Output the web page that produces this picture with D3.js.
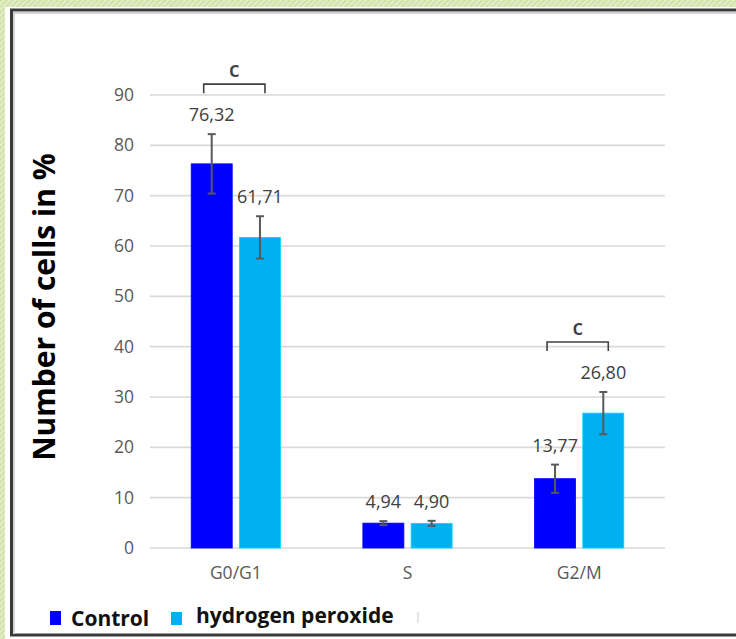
<!DOCTYPE html>
<html>
<head>
<meta charset="utf-8">
<script src="https://cdn.jsdelivr.net/npm/d3@7"></script>
<style>
  html, body { margin: 0; padding: 0; background: #ffffff; }
  svg { display: block; }
  text { font-family: "Open Sans", "Noto Sans", sans-serif; }
</style>
</head>
<body>
<div id="chart"></div>
<script>
// Cell-cycle phase distribution, control vs hydrogen peroxide
const categories = ["G0/G1", "S", "G2/M"];
const seriesNames = ["Control", "hydrogen peroxide"];
const controlValues = [76.32, 4.94, 13.77];
const peroxideValues = [61.71, 4.90, 26.80];
const controlErrors = [5.9, 0.4, 2.8];
const peroxideErrors = [4.2, 0.5, 4.2];
const yTickValues = [0, 10, 20, 30, 40, 50, 60, 70, 80, 90];
const significantCategories = ["G0/G1", "G2/M"];
const significanceLabel = "c";
const yAxisTitle = "Number of cells in %";
const seriesColors = ["#0000ff", "#00b0f0"];

const W = 736, H = 639;
const svg = d3.select("#chart").append("svg")
  .attr("width", W).attr("height", H);

// striped green page margin
const defs = svg.append("defs");
const pat = defs.append("pattern")
  .attr("id", "stripes").attr("patternUnits", "userSpaceOnUse")
  .attr("width", 4).attr("height", 4)
  .attr("patternTransform", "rotate(45)");
pat.append("rect").attr("width", 4).attr("height", 4).attr("fill", "#e2edc8");
pat.append("rect").attr("width", 2).attr("height", 4).attr("fill", "#d2e3aa");

svg.append("rect").attr("x", 0).attr("y", 0).attr("width", W).attr("height", 7)
  .attr("fill", "url(#stripes)");
svg.append("rect").attr("x", 0).attr("y", 0).attr("width", 5).attr("height", H)
  .attr("fill", "url(#stripes)");

// chart frame
svg.append("rect").attr("x", 11.5).attr("y", 10).attr("width", W + 20).attr("height", 625)
  .attr("fill", "#ffffff").attr("stroke", "#3a3a3a").attr("stroke-width", 3);
svg.append("path")
  .attr("d", `M14,${634} L14,13 L${W},13`)
  .attr("fill", "none").attr("stroke", "#d4d4d4").attr("stroke-width", 2);

// scales
const x0 = d3.scaleBand().domain(categories).range([150, 665])
  .paddingInner(0.48).paddingOuter(0.24);
const x1 = d3.scaleBand().domain(seriesNames).range([0, x0.bandwidth()])
  .paddingInner(0.15);
const y = d3.scaleLinear().domain([0, 90]).range([548, 95]);

// gridlines
svg.append("g").selectAll("line").data(yTickValues).join("line")
  .attr("x1", 150).attr("x2", 665)
  .attr("y1", d => y(d)).attr("y2", d => y(d))
  .attr("stroke", "#d9d9d9").attr("stroke-width", 1.6);

// y axis labels
const yAxis = d3.axisLeft(y).tickValues(yTickValues).tickSize(0).tickPadding(0)
  .tickFormat(d3.format("d"));
const yg = svg.append("g").attr("transform", "translate(134,0)").call(yAxis);
yg.select(".domain").remove();
yg.selectAll("text").attr("font-size", 17.5).attr("fill", "#595959")
  .attr("font-family", "'Open Sans', sans-serif");

// x axis labels
const xAxis = d3.axisBottom(x0).tickSize(0).tickPadding(0);
const xg = svg.append("g").attr("transform", "translate(0,567)").call(xAxis);
xg.select(".domain").remove();
xg.selectAll("text").attr("font-size", 17.5).attr("fill", "#595959")
  .attr("font-family", "'Open Sans', sans-serif");

// rows of bar data
const rows = [];
categories.forEach((c, i) => {
  rows.push({ cat: c, series: seriesNames[0], value: controlValues[i], err: controlErrors[i], color: seriesColors[0] });
  rows.push({ cat: c, series: seriesNames[1], value: peroxideValues[i], err: peroxideErrors[i], color: seriesColors[1] });
});
const cx = d => x0(d.cat) + x1(d.series) + x1.bandwidth() / 2;

// bars
svg.append("g").selectAll("rect").data(rows).join("rect")
  .attr("x", d => x0(d.cat) + x1(d.series))
  .attr("y", d => y(d.value))
  .attr("width", x1.bandwidth())
  .attr("height", d => y(0) - y(d.value))
  .attr("fill", d => d.color)
  .attr("stroke", d => d3.color(d.color).brighter(0.6))
  .attr("stroke-width", 0.8);

// error bars
const eg = svg.append("g").attr("stroke", "#595959").attr("stroke-width", 2).attr("fill", "none");
rows.forEach(d => {
  const xc = cx(d), t = y(d.value + d.err), b = y(d.value - d.err);
  eg.append("line").attr("x1", xc).attr("x2", xc).attr("y1", t).attr("y2", b);
  eg.append("line").attr("x1", xc - 4).attr("x2", xc + 4).attr("y1", t).attr("y2", t);
  eg.append("line").attr("x1", xc - 4).attr("x2", xc + 4).attr("y1", b).attr("y2", b);
});

// value labels
const fmt = v => v.toFixed(2).replace(".", ",");
svg.append("g").selectAll("text").data(rows).join("text")
  .attr("x", d => cx(d))
  .attr("y", d => y(d.value + d.err) - 13)
  .attr("text-anchor", "middle")
  .attr("font-size", 18).attr("fill", "#404040")
  .text(d => fmt(d.value));

// significance brackets
significantCategories.forEach(c => {
  const pair = rows.filter(r => r.cat === c);
  const top = d3.min(pair, r => y(r.value + r.err));
  const by = top - 50;
  const xl = cx(pair[0]) - 8, xr = cx(pair[1]) + 5;
  svg.append("path")
    .attr("d", `M${xl},${by + 9} L${xl},${by} L${xr},${by} L${xr},${by + 9}`)
    .attr("fill", "none").attr("stroke", "#404040").attr("stroke-width", 1.6);
  svg.append("text").attr("x", (xl + xr) / 2).attr("y", by - 7)
    .attr("text-anchor", "middle").attr("font-size", 21).attr("font-weight", 600)
    .attr("fill", "#404040").text(significanceLabel);
});

// y axis title
svg.append("text")
  .attr("transform", "translate(55,307) rotate(-90)")
  .attr("text-anchor", "middle")
  .attr("font-size", 30).attr("font-weight", 700).attr("fill", "#000000")
  .text(yAxisTitle);

// legend
const legend = [
  { name: seriesNames[0], color: seriesColors[0], sx: 50, sy: 611, sw: 11, sh: 14, tx: 71, ty: 626 },
  { name: seriesNames[1], color: seriesColors[1], sx: 171, sy: 612, sw: 11, sh: 13, tx: 196, ty: 623 }
];
const lg = svg.append("g");
legend.forEach(l => {
  lg.append("rect").attr("x", l.sx).attr("y", l.sy).attr("width", l.sw).attr("height", l.sh)
    .attr("fill", l.color);
  lg.append("text").attr("x", l.tx).attr("y", l.ty)
    .attr("font-size", 21).attr("font-weight", 700).attr("fill", "#111111")
    .text(l.name);
});
lg.append("line").attr("x1", 418).attr("x2", 418).attr("y1", 612).attr("y2", 623)
  .attr("stroke", "#cccccc").attr("stroke-width", 1);
</script>
</body>
</html>
